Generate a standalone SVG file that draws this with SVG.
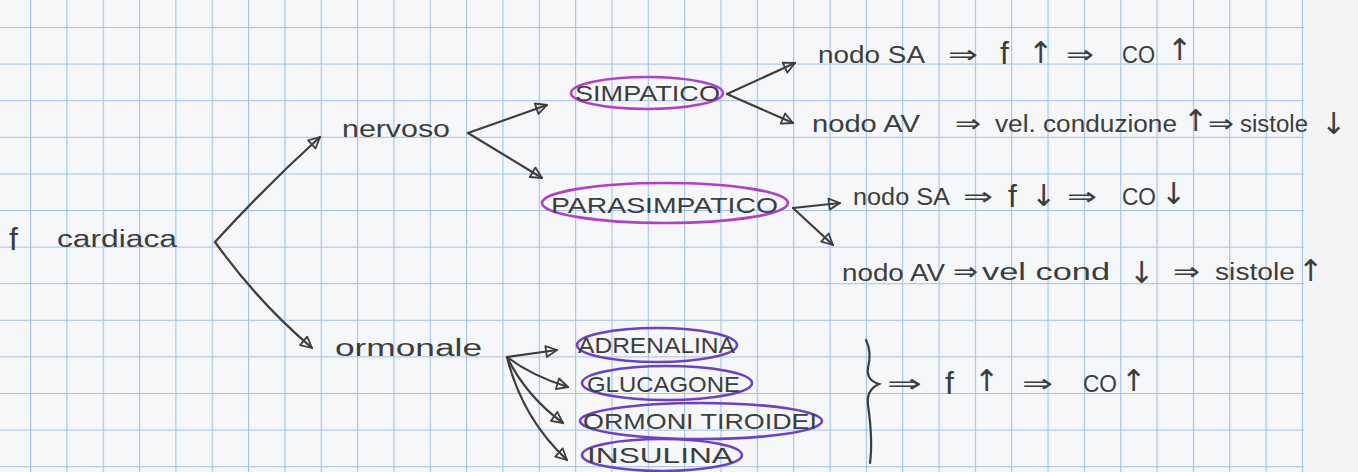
<svg xmlns="http://www.w3.org/2000/svg" width="1358" height="472" viewBox="0 0 1358 472">
<defs>
<style>
.ink{font-family:"Liberation Sans","DejaVu Sans",sans-serif;font-size:23px;fill:#3d3d3d}
.big{font-family:"Liberation Sans","DejaVu Sans",sans-serif;font-size:32px;fill:#3d3d3d}
.cap{font-family:"Liberation Sans","DejaVu Sans",sans-serif;font-size:22px;fill:#3d3d3d}
.imp{font-family:"DejaVu Sans","Liberation Sans",sans-serif;font-size:25px;fill:#3d3d3d}
.vert{font-family:"DejaVu Sans","Liberation Sans",sans-serif;font-size:30px;fill:#3d3d3d}
.line{fill:none;stroke:#3d3d3d;stroke-width:2.2;stroke-linecap:round}
.arr{fill:none;stroke:#3d3d3d;stroke-width:2.2;stroke-linecap:round;marker-end:url(#head)}
.mag{fill:none;stroke:#b23fcb;stroke-width:2.6}
.vio{fill:none;stroke:#6c40c8;stroke-width:2.6}
.grid{stroke:#a2c3e6;stroke-width:2.2}
</style>
<marker id="head" markerUnits="userSpaceOnUse" markerWidth="16" markerHeight="14" refX="13" refY="7" orient="auto">
<path d="M2,1.5 L13,7 L2,12.5 Z" fill="none" stroke="#3d3d3d" stroke-width="1.8" stroke-linejoin="round"/>
</marker>
<pattern id="gridV" x="30" y="0" width="36.34" height="472" patternUnits="userSpaceOnUse">
<line x1="0" y1="0" x2="0" y2="472" class="grid"/>
</pattern>
<pattern id="gridH" x="0" y="27" width="1358" height="36.6" patternUnits="userSpaceOnUse">
<line x1="0" y1="0" x2="1358" y2="0" class="grid"/>
</pattern>
</defs>

<g id="paper">
<rect x="0" y="0" width="1358" height="472" fill="#f5f7f8"/>
<rect x="0" y="0" width="1304" height="472" fill="url(#gridH)"/>
<rect x="29" y="0" width="1275" height="472" fill="url(#gridV)"/>
<rect x="1304" y="0" width="54" height="472" fill="#f3f4f4"/>
</g>

<g id="connectors">
<path class="arr" d="M215,242 Q266,186 320,137"/>
<path class="arr" d="M215,242 Q258,302 312,348"/>
<path class="arr" d="M468,133 L547,105"/>
<path class="arr" d="M468,133 L542,178"/>
<path class="arr" d="M727,94 L795,63"/>
<path class="arr" d="M727,94 L793,123"/>
<path class="arr" d="M793,208 L840,203"/>
<path class="arr" d="M793,208 L833,245"/>
<path class="arr" d="M507,357 L557,350"/>
<path class="arr" d="M507,357 Q532,376 568,387"/>
<path class="arr" d="M507,357 Q526,396 563,423"/>
<path class="arr" d="M507,357 Q522,418 567,460"/>
<path class="line" d="M866,340 Q872,352 868,368 Q866,380 879,384 Q866,390 868,405 Q873,440 870,463"/>
</g>

<g id="node-f-cardiaca">
<text class="big" x="9" y="250">f</text>
<text class="ink" x="57" y="247" textLength="120" lengthAdjust="spacingAndGlyphs">cardiaca</text>
</g>

<g id="node-nervoso">
<text class="ink" x="342" y="137" textLength="108" lengthAdjust="spacingAndGlyphs">nervoso</text>
</g>

<g id="node-ormonale">
<text class="ink" x="335" y="356" textLength="147" lengthAdjust="spacingAndGlyphs">ormonale</text>
</g>

<g id="node-simpatico">
<ellipse class="mag" cx="647" cy="93" rx="76" ry="16"/>
<text class="cap" x="575" y="101" textLength="145" lengthAdjust="spacingAndGlyphs">SIMPATICO</text>
</g>

<g id="node-parasimpatico">
<ellipse class="mag" cx="665" cy="203" rx="123" ry="20"/>
<text class="cap" x="551" y="213" textLength="227" lengthAdjust="spacingAndGlyphs">PARASIMPATICO</text>
</g>

<g id="node-sa-simp">
<text class="ink" x="818" y="63" textLength="107" lengthAdjust="spacingAndGlyphs">nodo SA</text>
<text class="imp" x="948" y="63" textLength="30" lengthAdjust="spacingAndGlyphs">⇒</text>
<text class="big" x="1000" y="64">f</text>
<text class="vert" x="1028" y="63">↑</text>
<text class="imp" x="1066" y="63" textLength="28" lengthAdjust="spacingAndGlyphs">⇒</text>
<text class="ink" x="1122" y="63" textLength="33" lengthAdjust="spacingAndGlyphs">CO</text>
<text class="vert" x="1167" y="60">↑</text>
</g>

<g id="node-av-simp">
<text class="ink" x="812" y="132" textLength="108" lengthAdjust="spacingAndGlyphs">nodo AV</text>
<text class="imp" x="955" y="132" textLength="26" lengthAdjust="spacingAndGlyphs">⇒</text>
<text class="ink" x="995" y="132" textLength="182" lengthAdjust="spacingAndGlyphs">vel. conduzione</text>
<text class="vert" x="1183" y="131">↑</text>
<text class="imp" x="1208" y="132" textLength="26" lengthAdjust="spacingAndGlyphs">⇒</text>
<text class="ink" x="1240" y="132" textLength="68" lengthAdjust="spacingAndGlyphs">sistole</text>
<text class="vert" x="1321" y="134">↓</text>
</g>

<g id="node-sa-para">
<text class="ink" x="853" y="205" textLength="97" lengthAdjust="spacingAndGlyphs">nodo SA</text>
<text class="imp" x="963" y="205" textLength="30" lengthAdjust="spacingAndGlyphs">⇒</text>
<text class="big" x="1008" y="207">f</text>
<text class="vert" x="1031" y="206">↓</text>
<text class="imp" x="1067" y="205" textLength="30" lengthAdjust="spacingAndGlyphs">⇒</text>
<text class="ink" x="1122" y="205" textLength="34" lengthAdjust="spacingAndGlyphs">CO</text>
<text class="vert" x="1161" y="204">↓</text>
</g>

<g id="node-av-para">
<text class="ink" x="842" y="281" textLength="103" lengthAdjust="spacingAndGlyphs">nodo AV</text>
<text class="imp" x="953" y="280" textLength="25" lengthAdjust="spacingAndGlyphs">⇒</text>
<text class="ink" x="982" y="280" textLength="128" lengthAdjust="spacingAndGlyphs">vel cond</text>
<text class="vert" x="1129" y="283">↓</text>
<text class="imp" x="1173" y="280" textLength="27" lengthAdjust="spacingAndGlyphs">⇒</text>
<text class="ink" x="1215" y="280" textLength="80" lengthAdjust="spacingAndGlyphs">sistole</text>
<text class="vert" x="1298" y="281">↑</text>
</g>

<g id="node-adrenalina">
<ellipse class="vio" cx="657" cy="345" rx="80" ry="17"/>
<text class="cap" x="578" y="353" textLength="157" lengthAdjust="spacingAndGlyphs">ADRENALINA</text>
</g>

<g id="node-glucagone">
<ellipse class="vio" cx="667" cy="383" rx="85" ry="17"/>
<text class="cap" x="587" y="392" textLength="153" lengthAdjust="spacingAndGlyphs">GLUCAGONE</text>
</g>

<g id="node-ormoni-tiroidei">
<ellipse class="vio" cx="701" cy="421" rx="121" ry="18"/>
<text class="cap" x="583" y="429" textLength="234" lengthAdjust="spacingAndGlyphs">ORMONI TIROIDEI</text>
</g>

<g id="node-insulina">
<ellipse class="vio" cx="662" cy="455" rx="80" ry="16"/>
<text class="cap" x="587" y="463" textLength="146" lengthAdjust="spacingAndGlyphs">INSULINA</text>
</g>

<g id="node-effetto-ormonale">
<text class="imp" x="887" y="392" textLength="35" lengthAdjust="spacingAndGlyphs">⇒</text>
<text class="big" x="945" y="394">f</text>
<text class="vert" x="974" y="391">↑</text>
<text class="imp" x="1022" y="392" textLength="31" lengthAdjust="spacingAndGlyphs">⇒</text>
<text class="ink" x="1083" y="392" textLength="34" lengthAdjust="spacingAndGlyphs">CO</text>
<text class="vert" x="1121" y="391">↑</text>
</g>
</svg>
